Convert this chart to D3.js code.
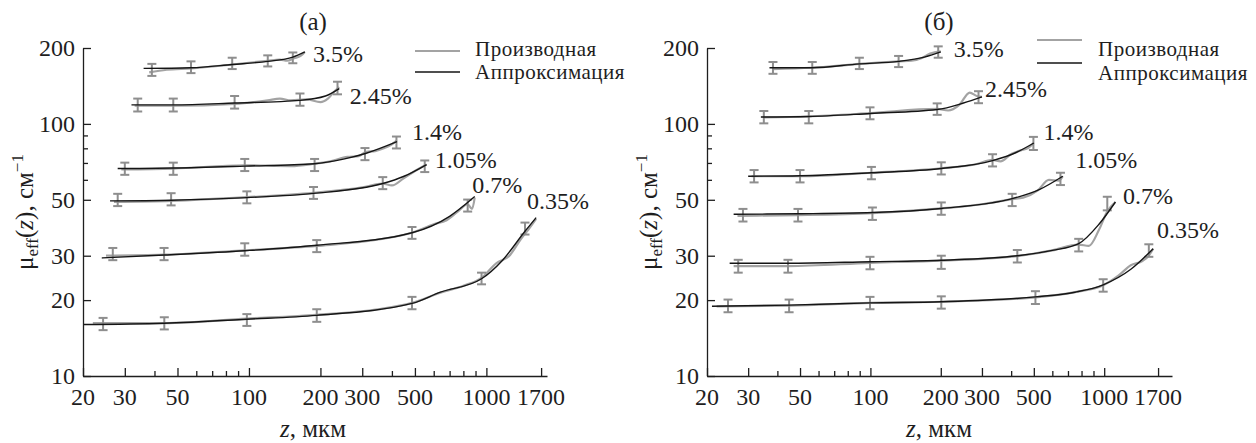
<!DOCTYPE html>
<html>
<head>
<meta charset="utf-8">
<script src="https://cdnjs.cloudflare.com/ajax/libs/d3/7.8.5/d3.min.js"></script>
</head>
<body style="margin:0">
<script>
/* concentrations, same order in both panels */
var seriesLabels = ["3.5%", "2.45%", "1.4%", "1.05%", "0.7%", "0.35%"];

var xTicksMajor = [20, 30, 50, 100, 200, 300, 500, 1000, 1700];
var xTicksMinor = [40, 60, 70, 80, 90, 400, 600, 700, 800, 900];
var yTicksMajor = [10, 20, 30, 50, 100, 200];
var yTicksMinor = [60, 70, 80, 90];

var legendNames = ["Производная", "Аппроксимация"];

/* panel (a) */
var aFitZ = [
  [36, 57, 85, 120, 153, 172],
  [32, 48, 87, 164, 210, 240],
  [28, 48, 96, 189, 250, 312, 420],
  [26, 47, 98, 187, 366, 450, 560],
  [24, 44, 96, 193, 486, 700, 893],
  [20, 44, 98, 193, 486, 640, 954, 1170, 1454, 1620]
];
var aFitMu = [
  [166, 167, 172, 177, 184, 193],
  [119, 119, 121, 124, 129, 138],
  [66.5, 66.8, 68, 69.5, 72.5, 76.5, 85],
  [49.5, 49.8, 51, 53, 58, 62, 69],
  [29.4, 30.2, 31.4, 33, 37, 43, 51.5],
  [16, 16.2, 16.8, 17.4, 19.4, 21.5, 24.3, 28.8, 37.5, 42.5]
];
var aDerZ = [
  [38, 45, 57, 85, 120, 135, 145, 155, 165, 172],
  [33, 48, 87, 120, 135, 150, 175, 200, 215, 230, 240],
  [29, 48, 96, 150, 189, 220, 260, 290, 312, 340, 370, 400, 420],
  [27, 47, 98, 187, 300, 366, 400, 450, 500, 560],
  [25, 44, 96, 193, 400, 486, 600, 680, 760, 834, 870, 893],
  [22, 44, 98, 193, 350, 486, 640, 800, 954, 1100, 1250, 1400, 1500, 1620]
];
var aDerMu = [
  [160, 164, 166, 172, 178, 180, 178, 182, 186, 193],
  [118, 118, 120, 124, 126, 124, 125, 122, 126, 135, 140],
  [66, 66.5, 68.5, 68, 69.5, 71, 74, 74.5, 77.5, 78, 80, 83, 86],
  [49, 49.5, 51.2, 53.3, 56, 58, 57, 61, 65, 69],
  [30, 30.3, 31.5, 32.8, 35.5, 37, 40, 41.5, 45, 48, 46, 51],
  [16.2, 16.2, 16.9, 17.5, 18.4, 19.5, 21.4, 22.8, 24.5, 28, 30, 35, 38, 42]
];
var aErrZ = [
  [39, 57, 85, 120, 153],
  [34, 48, 87, 164, 236],
  [30, 48, 96, 189, 308, 418],
  [28, 47, 98, 187, 366, 550],
  [26.7, 43.9, 96, 193, 486, 834],
  [24.3, 44, 98, 193, 486, 954, 1454]
];
var aErrMu = [
  [164, 168, 174, 178, 183],
  [119, 119, 122, 125, 139],
  [66.5, 66.5, 68.8, 68.8, 76, 84.5],
  [50, 50.3, 51.2, 53.3, 58.3, 68],
  [30.5, 30.5, 31.8, 32.8, 37, 47.5],
  [16.1, 16.2, 16.7, 17.4, 19.5, 24.4, 38.5]
];
var aErrD = [
  [9, 9, 9, 9, 9],
  [7, 7, 7, 7, 8],
  [3.7, 3.7, 3.8, 3.8, 4.2, 4.6],
  [2.8, 2.8, 2.8, 2.9, 3.2, 3.6],
  [1.7, 1.7, 1.8, 1.8, 2, 2.6],
  [0.9, 0.9, 0.9, 1, 1.1, 1.3, 2.1]
];
var aLabelZ = [186, 266, 486, 606, 871, 1484];
var aLabelMu = [176, 120, 86, 67, 53.3, 45.9];

/* panel (б) */
var bFitZ = [
  [37, 56, 90, 132, 170, 200],
  [34, 54.5, 100, 193, 250, 300],
  [30, 50, 101, 201, 333, 420, 500],
  [26, 49, 102, 201, 404, 530, 665],
  [25, 44.4, 99.6, 201, 425, 600, 778, 950, 1117],
  [21, 44.9, 99.6, 201, 508, 750, 990, 1300, 1620]
];
var bFitMu = [
  [167, 167, 173, 177, 184, 193],
  [106.5, 107, 110, 114, 121, 128],
  [62, 62.3, 64, 66.5, 71.5, 77, 84],
  [43.8, 44, 44.5, 46.2, 50.5, 55, 62],
  [28, 28, 28.4, 28.8, 30, 31.5, 33.5, 40, 49],
  [18.9, 19.1, 19.5, 19.7, 20.6, 21.5, 23, 26.5, 32]
];
var bDerZ = [
  [38, 56, 90, 132, 150, 165, 180, 200],
  [35, 54.5, 100, 193, 215, 240, 266, 285, 300],
  [31, 50, 101, 201, 280, 333, 360, 400, 440, 470, 500],
  [27, 49, 102, 201, 300, 404, 450, 520, 580, 640, 665],
  [26, 44.4, 99.6, 201, 425, 600, 778, 860, 950, 1031, 1117],
  [22, 44.9, 99.6, 201, 508, 750, 990, 1150, 1300, 1450, 1550, 1620]
];
var bDerMu = [
  [165, 167, 173, 177, 178, 182, 190, 194],
  [106, 107, 110.3, 114.6, 113, 119, 133, 129, 128],
  [62, 62, 64, 66.7, 69, 72, 71, 76, 78.5, 80, 84],
  [43.2, 43.5, 44.3, 46.2, 48, 50.3, 51, 54.5, 60, 59.5, 62],
  [27.3, 27.3, 28.1, 28.7, 29.9, 31.5, 33.2, 32.8, 38, 45, 49],
  [18.9, 19, 19.5, 19.7, 20.5, 21.5, 22.9, 25, 27.5, 28.5, 30, 32]
];
var bErrZ = [
  [38.3, 56.4, 89.7, 132, 195],
  [35, 54.5, 99.6, 193, 290],
  [31.8, 50, 101, 201, 333, 498],
  [28.5, 49, 102, 201, 404, 650],
  [27.2, 44.4, 99.6, 201, 425, 778, 1031],
  [24.6, 44.9, 99.6, 201, 508, 990, 1552]
];
var bErrMu = [
  [167, 167, 174, 177, 193],
  [106.5, 106.5, 110.3, 114.6, 127.8],
  [62.1, 62.1, 63.9, 66.7, 71.8, 83.8],
  [43.5, 43.5, 44.1, 46.2, 50, 60.6],
  [27.3, 27.3, 28.1, 28.3, 29.9, 33.1, 48.4],
  [19, 19, 19.5, 19.6, 20.5, 22.9, 31.5]
];
var bErrD = [
  [9, 9, 9, 9, 10],
  [6, 6, 6, 6, 7],
  [3.5, 3.5, 3.6, 3.7, 4, 5],
  [2.5, 2.5, 2.5, 2.6, 2.8, 3.4],
  [1.6, 1.6, 1.6, 1.7, 1.7, 1.9, 3],
  [1.1, 1.1, 1.1, 1.1, 1.2, 1.3, 1.8]
];
var bLabelZ = [227, 309, 550, 752, 1203, 1682];
var bLabelMu = [184, 128, 86, 66.7, 48, 35.2];

var width = 1256, height = 443;
var grayDer = "#a3a3a3", grayErr = "#8e8e8e", black = "#151515", ink = "#1e1e1e";

var svg = d3.select("body").append("svg")
    .attr("width", width)
    .attr("height", height);

function zip(zs, mus) {
  return zs.map(function(z, i) { return [z, mus[i]]; });
}

/* plain serif text straight on the svg */
function label(x, y, size, anchor) {
  return svg.append("text")
      .attr("x", x)
      .attr("y", y)
      .attr("font-size", size)
      .attr("text-anchor", anchor || "start")
      .attr("fill", ink)
      .style("font-family", "'Liberation Serif'");
}

function drawPanel(p) {
  var x = d3.scaleLog().domain([20, p.zMax]).range([p.left, p.right]);
  var y = d3.scaleLog().domain([10, 200]).range([376, 48]);
  var g = svg.append("g");

  var line = d3.line()
      .x(function(d) { return x(d[0]); })
      .y(function(d) { return y(d[1]); })
      .curve(d3.curveMonotoneX);

  /* derivative curves (gray) */
  g.selectAll(".der")
    .data(p.derZ.map(function(zs, i) { return zip(zs, p.derMu[i]); }))
    .enter().append("path")
      .attr("fill", "none")
      .attr("stroke", grayDer)
      .attr("stroke-width", 2.2)
      .attr("d", line);

  /* error bars */
  p.errZ.forEach(function(zs, i) {
    var pts = zs.map(function(z, j) { return {z: z, mu: p.errMu[i][j], d: p.errD[i][j]}; });
    var eb = g.append("g").selectAll("g").data(pts).enter().append("g")
        .attr("stroke", grayErr)
        .attr("stroke-width", 2);
    eb.append("line")
        .attr("x1", function(d) { return x(d.z); })
        .attr("x2", function(d) { return x(d.z); })
        .attr("y1", function(d) { return y(d.mu + d.d); })
        .attr("y2", function(d) { return y(d.mu - d.d); });
    [1, -1].forEach(function(s) {
      eb.append("line")
          .attr("x1", function(d) { return x(d.z) - 4.5; })
          .attr("x2", function(d) { return x(d.z) + 4.5; })
          .attr("y1", function(d) { return y(d.mu + s * d.d); })
          .attr("y2", function(d) { return y(d.mu + s * d.d); });
    });
  });

  /* approximation curves (black) */
  g.selectAll(".fit")
    .data(p.fitZ.map(function(zs, i) { return zip(zs, p.fitMu[i]); }))
    .enter().append("path")
      .attr("fill", "none")
      .attr("stroke", black)
      .attr("stroke-width", 1.4)
      .attr("d", line);

  /* axes: ticks only, labels drawn by hand below */
  g.append("g").attr("transform", "translate(0,376)")
      .call(d3.axisBottom(x).tickValues(xTicksMajor).tickFormat("")
        .tickSizeInner(-8).tickSizeOuter(0));
  g.append("g").attr("transform", "translate(0,376)")
      .call(d3.axisBottom(x).tickValues(xTicksMinor).tickFormat("")
        .tickSizeInner(-5).tickSizeOuter(0))
    .select(".domain").remove();
  g.append("g").attr("transform", "translate(" + p.left + ",0)")
      .call(d3.axisLeft(y).tickValues(yTicksMajor).tickFormat("")
        .tickSizeInner(-8).tickSizeOuter(0));
  g.append("g").attr("transform", "translate(" + p.left + ",0)")
      .call(d3.axisLeft(y).tickValues(yTicksMinor).tickFormat("")
        .tickSizeInner(-5).tickSizeOuter(0))
    .select(".domain").remove();
  g.selectAll(".tick text").remove();
  g.selectAll(".domain, .tick line").attr("stroke", ink).attr("stroke-width", 1.3);

  xTicksMajor.forEach(function(v) { label(x(v), 405, 24, "middle").text(v); });
  yTicksMajor.forEach(function(v) { label(p.left - 8, y(v) + 8, 24, "end").text(v); });

  /* concentration labels */
  seriesLabels.forEach(function(s, i) {
    label(x(p.labZ[i]), y(p.labMu[i]), 24).text(s);
  });

  /* axis titles */
  var xt = label(p.titleX, 437, 25, "middle");
  xt.append("tspan").attr("font-style", "italic").text("z");
  xt.append("tspan").text(", мкм");

  var yt = label(0, 0, 25, "middle")
      .attr("transform", "translate(" + (p.left - 50) + ",212) rotate(-90)");
  yt.append("tspan").text("μ");
  yt.append("tspan").attr("font-size", 17).attr("dy", 5).text("eff");
  yt.append("tspan").attr("dy", -5).text("(");
  yt.append("tspan").attr("font-style", "italic").text("z");
  yt.append("tspan").text("), см");
  yt.append("tspan").attr("font-size", 17).attr("dy", -10).text("−1");

  /* panel title */
  label(p.titleX, 30, 25, "middle").text(p.title);

  /* legend */
  g.append("line")
      .attr("x1", p.legX).attr("x2", p.legX + 45)
      .attr("y1", p.legY[0]).attr("y2", p.legY[0])
      .attr("stroke", grayDer).attr("stroke-width", 2.2);
  g.append("line")
      .attr("x1", p.legX).attr("x2", p.legX + 45)
      .attr("y1", p.legY[1]).attr("y2", p.legY[1])
      .attr("stroke", black).attr("stroke-width", 1.6);
  legendNames.forEach(function(n, i) {
    label(p.legTextX, p.legTextY[i], 21).attr("letter-spacing", 0.5).text(n);
  });
}

drawPanel({
  left: 83, right: 547, zMax: 1800, titleX: 313, title: "(a)",
  fitZ: aFitZ, fitMu: aFitMu, derZ: aDerZ, derMu: aDerMu,
  errZ: aErrZ, errMu: aErrMu, errD: aErrD, labZ: aLabelZ, labMu: aLabelMu,
  legX: 415, legY: [51, 72], legTextX: 475, legTextY: [56, 79]
});

drawPanel({
  left: 707, right: 1172, zMax: 1950, titleX: 939, title: "(б)",
  fitZ: bFitZ, fitMu: bFitMu, derZ: bDerZ, derMu: bDerMu,
  errZ: bErrZ, errMu: bErrMu, errD: bErrD, labZ: bLabelZ, labMu: bLabelMu,
  legX: 1037, legY: [40, 63], legTextX: 1098, legTextY: [56, 80]
});
</script>
</body>
</html>
